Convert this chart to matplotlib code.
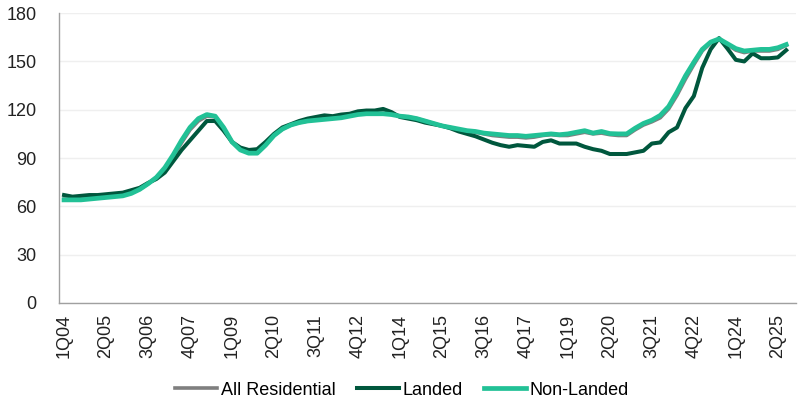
import numpy as np
import matplotlib
matplotlib.use("Agg")
import matplotlib.pyplot as plt

plt.rcParams["font.family"] = ["Liberation Sans", "DejaVu Sans"]

# -------- DATA --------
quarters = [f"{q}Q{y % 100:02d}" for y in range(2004, 2026) for q in range(1, 5)][:87]

all_residential = [
    64.5, 64.5, 64.5, 65, 65.5, 66, 66.5, 67, 68.5, 70.5,
    74, 78, 83.5, 91, 99.5, 107.5, 113, 116, 115.5, 108.5,
    100, 95.5, 93.5, 93.5, 98.5, 104, 108, 110.5, 112, 113,
    114, 114.5, 115, 115.5, 116.5, 117.5, 118, 118, 118, 117.5,
    116, 115.5, 114.5, 113, 111.5, 110, 109, 107.5, 106.5, 106,
    105, 104, 103.5, 103, 103, 102.5, 103, 104, 104.5, 104,
    104, 105, 106, 105, 105.5, 104.5, 104, 104, 107.5, 110.5,
    112.5, 115, 120.5, 129, 139, 148, 156.5, 161.5, 164, 160.5,
    157, 155.5, 156.5, 156.5, 156.5, 157.5, 160,
]
landed = [
    67, 66, 66.5, 67, 67, 67.5, 68, 68.5, 70, 71.5,
    74.5, 77, 81, 88, 95, 101, 107, 113, 113, 107,
    100, 96.5, 95, 95.5, 100, 105, 109, 111, 113, 114.5,
    115.5, 116.5, 116, 117, 117.5, 119, 119.5, 119.5, 120.5, 118.5,
    115.5, 114.5, 113.5, 112, 111, 110, 108.5, 106.5, 105, 103.5,
    101.5, 99.5, 98, 97, 98, 97.5, 97, 100, 101, 99,
    99, 99, 97, 95.5, 94.5, 92.5, 92.5, 92.5, 93.5, 94.5,
    99, 99.7, 106, 109, 121, 128.5, 146, 157.5, 164.5, 158,
    151, 150, 155, 152, 152, 152.5, 157,
]
non_landed = [
    64, 64, 64, 64.5, 65, 65.5, 66, 66.5, 68, 70.5,
    74, 78, 84, 92, 101, 109, 114.5, 117, 116, 109,
    100, 95, 93, 93, 98, 104, 108, 110.5, 112, 113,
    113.5, 114, 114.5, 115, 116, 117, 117.5, 117.5, 117.5, 117,
    116, 115.5, 114.5, 113, 111.5, 110, 109, 108, 107, 106.5,
    105.5, 105, 104.5, 104, 104, 103.5, 104, 104.5, 105, 104.5,
    105, 106, 107, 105.5, 106.5, 105.2, 105, 105, 108.5, 111.5,
    113.5, 116.5, 122, 131, 141, 149.5, 157.5, 162, 164, 161,
    158, 156.5, 157, 157.5, 157.5, 158.5, 160.5,
]

tick_labels = ["1Q04", "2Q05", "3Q06", "4Q07", "1Q09", "2Q10", "3Q11", "4Q12", "1Q14",
               "2Q15", "3Q16", "4Q17", "1Q19", "2Q20", "3Q21", "4Q22", "1Q24", "2Q25"]

# -------- PLOT --------
x = np.arange(len(quarters))
fig = plt.figure(figsize=(8.04, 4.11), dpi=100)
ax = fig.add_axes([0.0734, 0.263, 0.917, 0.705])

ax.plot(x, all_residential, color="#7f7f7f", lw=2.6, label="All Residential", zorder=3)
ax.plot(x, landed, color="#00573d", lw=2.9, label="Landed", zorder=4)
ax.plot(x, non_landed, color="#22c196", lw=3.4, label="Non-Landed", zorder=5)

ax.set_ylim(0, 180)
ax.set_yticks(range(0, 181, 30))
ax.set_xlim(-0.6, 87.2)
ax.set_xticks([quarters.index(t) for t in tick_labels])
ax.set_xticklabels(tick_labels, rotation=90)
ax.tick_params(axis="both", length=0, labelsize=13, colors="#222222")
ax.tick_params(axis="y", pad=16)
ax.tick_params(axis="x", pad=8)

ax.grid(axis="y", color="#efefef", lw=1)
ax.set_axisbelow(True)
for s in ["top", "right"]:
    ax.spines[s].set_visible(False)
for s in ["left", "bottom"]:
    ax.spines[s].set_color("#a0a0a0")
    ax.spines[s].set_linewidth(1)

fig.legend(loc="center", bbox_to_anchor=(0.5, 0.051), ncol=3, frameon=False,
           fontsize=13, handlelength=2.3, handletextpad=0.2, columnspacing=1.2)

fig.savefig("out.png", dpi=100)
